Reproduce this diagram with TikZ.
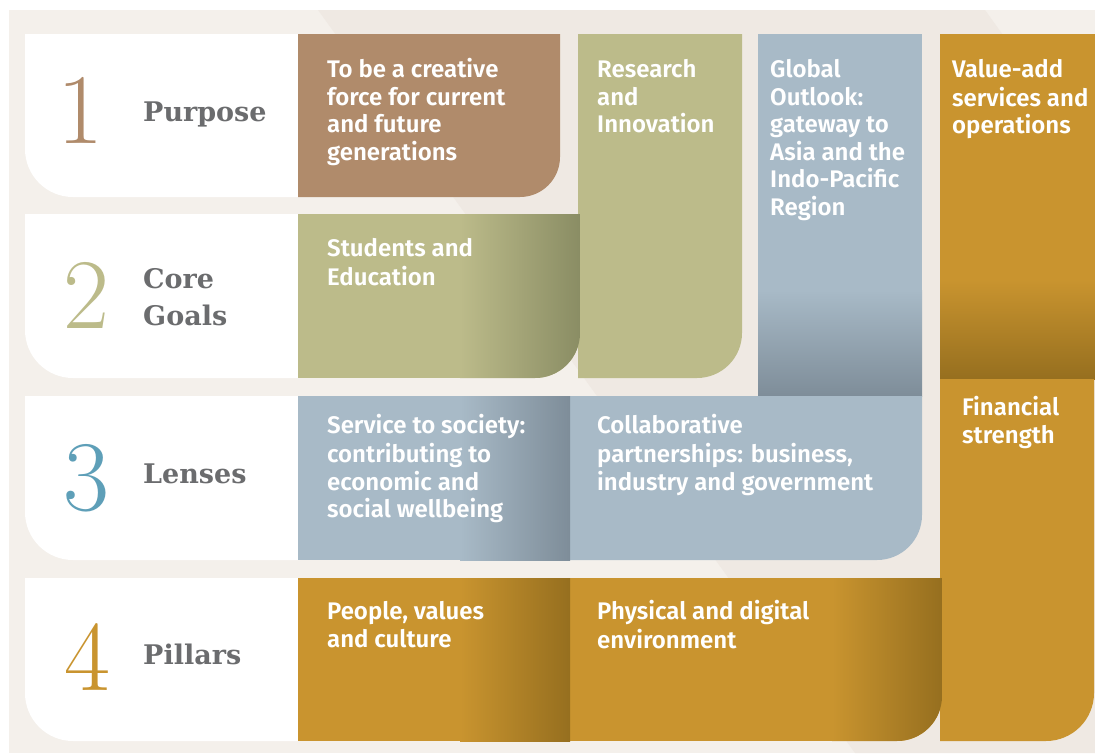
\documentclass[tikz,border=0pt]{standalone}
\usepackage{fontspec}
\setmainfont{Fira Sans}
\newfontfamily\boxfont{Fira Sans SemiBold}
\newfontfamily\labfont{DejaVu Serif}
\newfontfamily\numfont{Latin Modern Roman}
\definecolor{bgone}{HTML}{F4F0EB}
\definecolor{bgtwo}{HTML}{EFE9E3}
\definecolor{brownbox}{HTML}{B08B6B}
\definecolor{olive}{HTML}{BCBB8A}
\definecolor{olivedk}{HTML}{8A8D64}
\definecolor{bluebox}{HTML}{A8BAC7}
\definecolor{bluedk}{HTML}{7E8D99}
\definecolor{goldbox}{HTML}{C9942F}
\definecolor{golddk}{HTML}{966F1F}
\definecolor{labgray}{HTML}{6B6C6E}
\definecolor{numblue}{HTML}{5E9FB8}
% rounded bottom-right corner shape: style, x1, y1, x2, y2, r
\newcommand{\brshape}[6]{\path[#1] (#2,#3) -- (#4,#3) -- (#4,{#5-#6}) .. controls (#4,{#5-0.448*#6}) and ({#4-0.448*#6},#5) .. ({#4-#6},#5) -- (#2,#5) -- cycle;}
% rounded bottom-left corner shape
\newcommand{\blshape}[6]{\path[#1] (#2,#3) -- (#4,#3) -- (#4,#5) -- ({#2+#6},#5) .. controls ({#2+0.448*#6},#5) and (#2,{#5-0.448*#6}) .. (#2,{#5-#6}) -- cycle;}
\tikzset{
  boxtxt/.style={anchor=north west, inner sep=0pt, align=left, text=white, font=\boxfont\fontsize{24}{27.5}\selectfont},
  labtxt/.style={anchor=base west, inner sep=0pt, text=labgray, font=\labfont\bfseries\fontsize{27}{37}\selectfont},
  numtxt/.style={anchor=base, inner sep=0pt, font=\numfont\fontsize{100}{100}\selectfont},
}
\begin{document}
\begin{tikzpicture}[x=1pt,y=-1pt]
\useasboundingbox (0,0) rectangle (1095,753);
\fill[white] (0,0) rectangle (1095,753);
% background
\fill[bgone] (9,10) rectangle (1095,753);
\fill[bgtwo] (318,10) -- (985,10) -- (1095,163) -- (1095,753) -- (855,753) -- cycle;
% white row panels
\blshape{fill=white}{25}{34}{300}{197}{48}
\blshape{fill=white}{25}{214}{300}{378}{48}
\blshape{fill=white}{25}{396}{300}{560}{48}
\blshape{fill=white}{25}{578}{300}{741}{48}
% row 1
\brshape{fill=brownbox}{298}{34}{560}{197}{40}
% research
\brshape{fill=olive}{578}{34}{742}{378}{45}
% students
\begin{scope}
  \brshape{clip}{298}{214}{580}{378}{45}
  \fill[olive] (298,214) rectangle (580,378);
  \shade[left color=olive, right color=olivedk] (460,214) rectangle (580,378);
\end{scope}
% global outlook
\begin{scope}
  \clip (758,34) rectangle (922,396);
  \fill[bluebox] (758,34) rectangle (922,396);
  \shade[top color=bluebox, bottom color=bluedk] (758,290) rectangle (922,396);
\end{scope}
% value-add
\begin{scope}
  \clip (940,34) rectangle (1095,379);
  \fill[goldbox] (940,34) rectangle (1095,379);
  \shade[top color=goldbox, bottom color=golddk] (940,280) rectangle (1095,379);
\end{scope}
% financial strength
\brshape{fill=goldbox}{940}{379}{1094}{741}{48}
% collaborative
\brshape{fill=bluebox}{570}{396}{922}{560}{45}
% service
\begin{scope}
  \clip (298,396) rectangle (570,560);
  \fill[bluebox] (298,396) rectangle (570,560);
  \shade[left color=bluebox, right color=bluedk] (460,396) rectangle (570,560);
\end{scope}
% physical
\begin{scope}
  \brshape{clip}{570}{578}{942}{741}{45}
  \fill[goldbox] (570,578) rectangle (942,741);
  \shade[left color=goldbox, right color=golddk] (832,578) rectangle (942,741);
\end{scope}
% people
\begin{scope}
  \clip (298,578) rectangle (570,741);
  \fill[goldbox] (298,578) rectangle (570,741);
  \shade[left color=goldbox, right color=golddk] (460,578) rectangle (570,741);
\end{scope}
% numbers
\node[numtxt, text=brownbox] (n1) at (80,143) {1};
\node[numtxt, text=olive] (n2) at (86,328) {2};
\node[numtxt, text=numblue] (n3) at (86,510) {3};
\node[numtxt, text=goldbox] (n4) at (87,690) {4};
% labels
\node[labtxt] (l1) at (143,121) {Purpose};
\node[labtxt, anchor=north west, align=left] (l2) at (143,262.1) {\strut Core\\Goals};
\node[labtxt] (l3) at (143,483) {Lenses};
\node[labtxt] (l4) at (143,664) {Pillars};
% box texts
\node[boxtxt] (t1) at (327,58.5) {\strut To be a creative\\force for current\\and future\\generations};
\node[boxtxt] (t2) at (597,58.5) {\strut Research\\and\\Innovation};
\node[boxtxt] (t3) at (770,58.5) {\strut Global\\Outlook:\\gateway to\\Asia and the\\Indo-Pacific\\Region};
\node[boxtxt] (t4) at (952,58.5) {\strut Value-add\\services and\\operations};
\node[boxtxt] (t5) at (327,237.5) {\strut Students and\\Education};
\node[boxtxt] (t6) at (962,396.5) {\strut Financial\\strength};
\node[boxtxt] (t7) at (327,414.5) {\strut Service to society:\\contributing to\\economic and\\social wellbeing};
\node[boxtxt] (t8) at (597,414.5) {\strut Collaborative\\partnerships: business,\\industry and government};
\node[boxtxt] (t9) at (327,600.5) {\strut People, values\\and culture};
\node[boxtxt] (t10) at (597,600.5) {\strut Physical and digital\\environment};
\end{tikzpicture}
\end{document}
